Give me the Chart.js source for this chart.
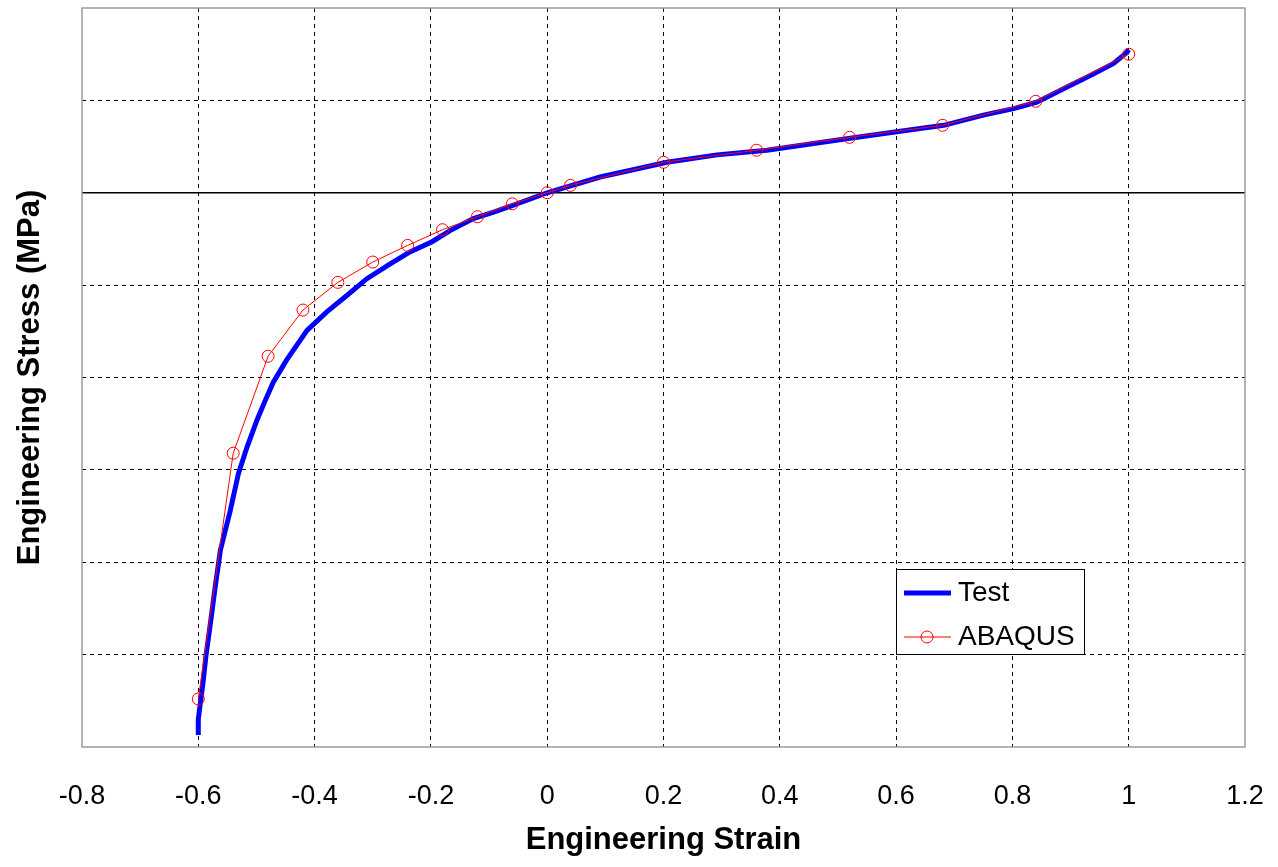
<!DOCTYPE html>
<html lang="en">

<head>
    <meta charset="UTF-8">
    <title>Engineering Stress vs Strain</title>
    <script src="https://cdn.jsdelivr.net/npm/chart.js"></script>
    <style>
        body {
            margin: 0;
            background: #fff;
        }

        .grafico {
            width: 1278px;
            height: 867px;
        }
    </style>
</head>

<body>
    <div class="grafico">
        <canvas id="curva"></canvas>
    </div>
</body>

</html>

<script>
    // test curve (thick blue)
    var testStrain = [-0.600, -0.600, -0.598, -0.592, -0.587, -0.580, -0.571, -0.562, -0.545, -0.531, -0.516,
        -0.499, -0.485, -0.471, -0.448, -0.413, -0.379, -0.344, -0.310, -0.270, -0.236, -0.198, -0.167,
        -0.127, -0.092, -0.058, 0.000, 0.091, 0.206, 0.292, 0.378, 0.521, 0.601, 0.682, 0.750, 0.802,
        0.842, 0.894, 0.934, 0.974, 0.997, 1.000];
    var testStress = [-5.87, -5.70, -5.60, -5.31, -5.02, -4.70, -4.27, -3.87, -3.44, -3.04, -2.75,
        -2.46, -2.25, -2.05, -1.81, -1.49, -1.29, -1.11, -0.93, -0.77, -0.64, -0.53, -0.41,
        -0.28, -0.21, -0.135, 0.00, 0.17, 0.33, 0.41, 0.46, 0.59, 0.66, 0.73, 0.84, 0.91,
        0.98, 1.145, 1.27, 1.40, 1.52, 1.55];

    // FE model (red with circles)
    var abaqusStrain = [-0.60, -0.54, -0.48, -0.42, -0.36, -0.30, -0.24, -0.18, -0.12, -0.06, 0.00,
        0.04, 0.20, 0.36, 0.52, 0.68, 0.84, 1.00];
    var abaqusStress = [-5.48, -2.82, -1.77, -1.27, -0.97, -0.75, -0.57, -0.40, -0.26, -0.12, 0.00,
        0.08, 0.33, 0.46, 0.60, 0.73, 0.99, 1.50];

    var xMin = -0.8, xMax = 1.2, xStep = 0.2;
    var yMin = -6, yMax = 2, yStep = 1;

    var fonte = "'Liberation Sans', Arial, sans-serif";

    function pares(xs, ys) {
        var lista = [];
        for (var i = 0; i < xs.length; i++) {
            lista.push({ x: xs[i], y: ys[i] });
        }
        return lista;
    }

    function nasBordas(valor, min, max) {
        return Math.abs(valor - min) < 1e-9 || Math.abs(valor - max) < 1e-9;
    }

    // grey box round the plot area
    const moldura = {
        id: 'moldura',
        afterDraw(chart) {
            const { ctx, chartArea: a } = chart;
            ctx.save();
            ctx.strokeStyle = '#9a9a9a';
            ctx.lineWidth = 1.5;
            ctx.strokeRect(a.left, a.top, a.right - a.left, a.bottom - a.top);
            ctx.restore();
        }
    };

    // legend box inside the lower right of the plot
    const legendaInterna = {
        id: 'legendaInterna',
        afterDraw(chart) {
            const { ctx, chartArea: a } = chart;
            const left = a.right - 349, top = a.bottom - 178;
            const w = 188, h = 85;
            ctx.save();
            ctx.fillStyle = '#fff';
            ctx.fillRect(left, top, w, h);
            ctx.strokeStyle = '#000';
            ctx.lineWidth = 1;
            ctx.strokeRect(left + 0.5, top + 0.5, w, h);

            ctx.font = '28px ' + fonte;
            ctx.textBaseline = 'middle';
            ctx.fillStyle = '#000';

            chart.data.datasets.forEach(function (ds, i) {
                const y = top + 24 + i * 44;
                ctx.strokeStyle = ds.borderColor;
                ctx.lineWidth = ds.borderWidth;
                ctx.beginPath();
                ctx.moveTo(left + 8, y);
                ctx.lineTo(left + 55, y);
                ctx.stroke();
                if (ds.pointRadius > 0) {
                    ctx.lineWidth = ds.pointBorderWidth;
                    ctx.strokeStyle = ds.pointBorderColor;
                    ctx.beginPath();
                    ctx.arc(left + 31, y, ds.pointRadius, 0, Math.PI * 2);
                    ctx.stroke();
                }
                ctx.fillStyle = '#000';
                ctx.fillText(ds.label, left + 62, y);
            });
            ctx.restore();
        }
    };

    const grafico = document.getElementById('curva');
    new Chart(grafico, {
        type: 'scatter',
        data: {
            datasets: [{
                label: 'Test',
                data: pares(testStrain, testStress),
                showLine: true,
                borderColor: '#0000ff',
                backgroundColor: '#0000ff',
                borderWidth: 5,
                pointRadius: 0,
                tension: 0,
                order: 1
            }, {
                label: 'ABAQUS',
                data: pares(abaqusStrain, abaqusStress),
                showLine: true,
                borderColor: '#ff0000',
                backgroundColor: 'transparent',
                borderWidth: 1,
                pointRadius: 6,
                pointBorderColor: '#ff0000',
                pointBackgroundColor: 'transparent',
                pointBorderWidth: 1,
                tension: 0,
                order: 0
            }]
        },
        options: {
            responsive: true,
            maintainAspectRatio: false,
            animation: false,
            layout: {
                padding: { top: 8, right: 33, left: 0, bottom: 0 }
            },
            plugins: {
                legend: { display: false },
                tooltip: { enabled: false }
            },
            scales: {
                x: {
                    type: 'linear',
                    min: xMin,
                    max: xMax,
                    afterFit: function (escala) {
                        escala.height = 120;
                        escala.paddingLeft = 0;
                        escala.paddingRight = 0;
                    },
                    ticks: {
                        stepSize: xStep,
                        color: '#000',
                        padding: 33,
                        font: { family: fonte, size: 27 },
                        callback: function (v) { return +v.toFixed(1); }
                    },
                    grid: {
                        drawTicks: false,
                        lineWidth: 1,
                        color: function (c) {
                            return nasBordas(c.tick.value, xMin, xMax) ? 'transparent' : '#000';
                        }
                    },
                    border: { display: false, dash: [4, 4] },
                    title: {
                        display: true,
                        text: 'Engineering Strain',
                        color: '#000',
                        padding: { top: 0, bottom: 8 },
                        font: { family: fonte, size: 31, weight: 'bold' }
                    }
                },
                y: {
                    type: 'linear',
                    min: yMin,
                    max: yMax,
                    afterFit: function (escala) { escala.width = 82; },
                    ticks: { stepSize: yStep, display: false },
                    grid: {
                        drawTicks: false,
                        lineWidth: function (c) { return c.tick.value === 0 ? 1.5 : 1; },
                        color: function (c) {
                            return nasBordas(c.tick.value, yMin, yMax) ? 'transparent' : '#000';
                        }
                    },
                    border: {
                        display: false,
                        dash: function (c) { return c.tick && c.tick.value === 0 ? [] : [4, 4]; }
                    },
                    title: {
                        display: true,
                        text: 'Engineering Stress (MPa)',
                        color: '#000',
                        padding: { top: 12, bottom: 0 },
                        font: { family: fonte, size: 31, weight: 'bold' }
                    }
                }
            }
        },
        plugins: [moldura, legendaInterna]
    });
</script>
